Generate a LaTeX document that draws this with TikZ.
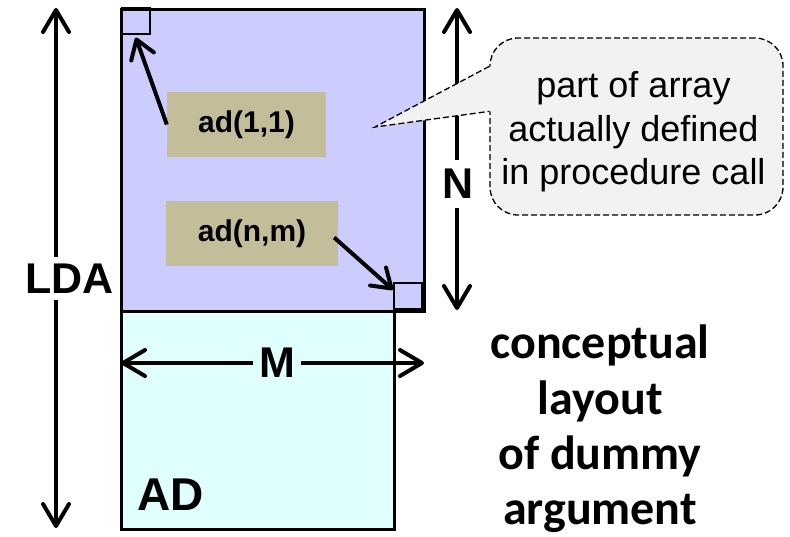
\documentclass[tikz,border=0pt]{standalone}
\usepackage{fontspec}
\setmainfont{Liberation Sans}
\newfontfamily\calibrifont{Carlito}
\usetikzlibrary{arrows.meta, positioning, calc}
\definecolor{mdefined}{HTML}{CCCCFF}
\definecolor{mdummy}{HTML}{E0FFFF}
\definecolor{mtan}{HTML}{C4BD9A}
\definecolor{mnote}{HTML}{F2F2F2}
\tikzset{
  arrblock/.style={draw=black, line width=3pt, inner sep=0pt, anchor=north west},
  cellsq/.style={draw=black, line width=1.6pt, inner sep=0pt, anchor=north west,
                 minimum width=28pt, minimum height=26pt},
  tanbox/.style={fill=mtan, inner sep=0pt, minimum width=159pt, minimum height=65pt,
                 font=\fontsize{30}{36}\selectfont\bfseries},
  biglbl/.style={inner sep=7pt, font=\fontsize{43}{50}\selectfont\bfseries},
  dimarr/.style={line width=4pt, -{Straight Barb[length=22pt,width=26pt,round]}},
  ptrarr/.style={line width=4pt, -{Straight Barb[length=18pt,width=24pt,round]}},
  notebox/.style={draw=black, dash pattern=on 6pt off 3pt, line width=1.3pt, fill=mnote,
                  rounded corners=28pt, minimum width=293pt, minimum height=177pt},
  notetxt/.style={align=center, inner sep=0pt, font=\fontsize{36}{43.5}\selectfont},
}
\begin{document}
\begin{tikzpicture}[x=1pt, y=-1pt]
  \useasboundingbox (0,0) rectangle (790,536);
  % dummy argument and the part that is defined
  \node[arrblock, fill=mdummy, line width=2.5pt, minimum width=273pt, minimum height=218pt] (dummy) at (120,310) {};
  \node[arrblock, fill=mdefined, minimum width=303pt, minimum height=302pt] (defd) at (120,8) {};
  \node[biglbl, inner sep=0pt, font=\fontsize{46}{50}\selectfont\bfseries] (adname) at (170.5,495) {AD};
  % first and last element
  \node[cellsq] (first) at (121,7) {};
  \node[cellsq] (last) at (393,282) {};
  \node[tanbox] (a11) at (246.5,124.5) {ad(1,1)};
  \node[tanbox, minimum width=172pt] (anm) at (252,233.5) {ad(n,m)};
  \draw[ptrarr] (a11.west) -- ([yshift=-3pt]first.south);
  \draw[ptrarr] ([xshift=-4pt,yshift=-4pt]anm.east) -- ([yshift=6pt]last.west);
  % LDA
  \node[biglbl] (lda) at (69.5,278.5) {LDA};
  \coordinate (ldatop) at (56,8);
  \coordinate (ldabot) at (56,528);
  \draw[dimarr] (ldatop |- lda.north) -- (ldatop);
  \draw[dimarr] (ldabot |- lda.south) -- (ldabot);
  % M
  \node[biglbl, inner ysep=0pt, inner xsep=6pt] (mlbl) at (277,363) {M};
  \coordinate (mleft) at (121,363);
  \coordinate (mright) at (424,363);
  \draw[dimarr] (mleft -| mlbl.west) -- (mleft);
  \draw[dimarr] (mright -| mlbl.east) -- (mright);
  % N
  \node[biglbl, inner ysep=9pt] (nlbl) at (458.5,184) {N};
  \coordinate (ntop) at (457,8);
  \coordinate (nbot) at (457,310);
  \draw[dimarr] (ntop |- nlbl.north) -- (ntop);
  \draw[dimarr] (nbot |- nlbl.south) -- (nbot);
  % callout
  \node[notebox] (note) at (636.5,126.5) {};
  \coordinate (ptip) at (375,127);
  \coordinate (pup) at ($(note.north west)+(0,29)$);
  \coordinate (plow) at ($(note.north west)+(0,74)$);
  \fill[mnote] ([xshift=1.5pt]pup) -- (ptip) -- ([xshift=1.5pt]plow) -- cycle;
  \draw[dash pattern=on 6pt off 3pt, line width=1.3pt] (pup) -- (ptip) -- (plow);
  \node[notetxt] (notetext) at (633.5,132) {part of array\\actually defined\\in procedure call};
  % caption
  \node[align=center, inner sep=0pt, font=\calibrifont\fontsize{48}{55.3}\selectfont\bfseries] (concept) at (600,429)
    {conceptual\\layout\\of dummy\\argument};
\end{tikzpicture}
\end{document}
